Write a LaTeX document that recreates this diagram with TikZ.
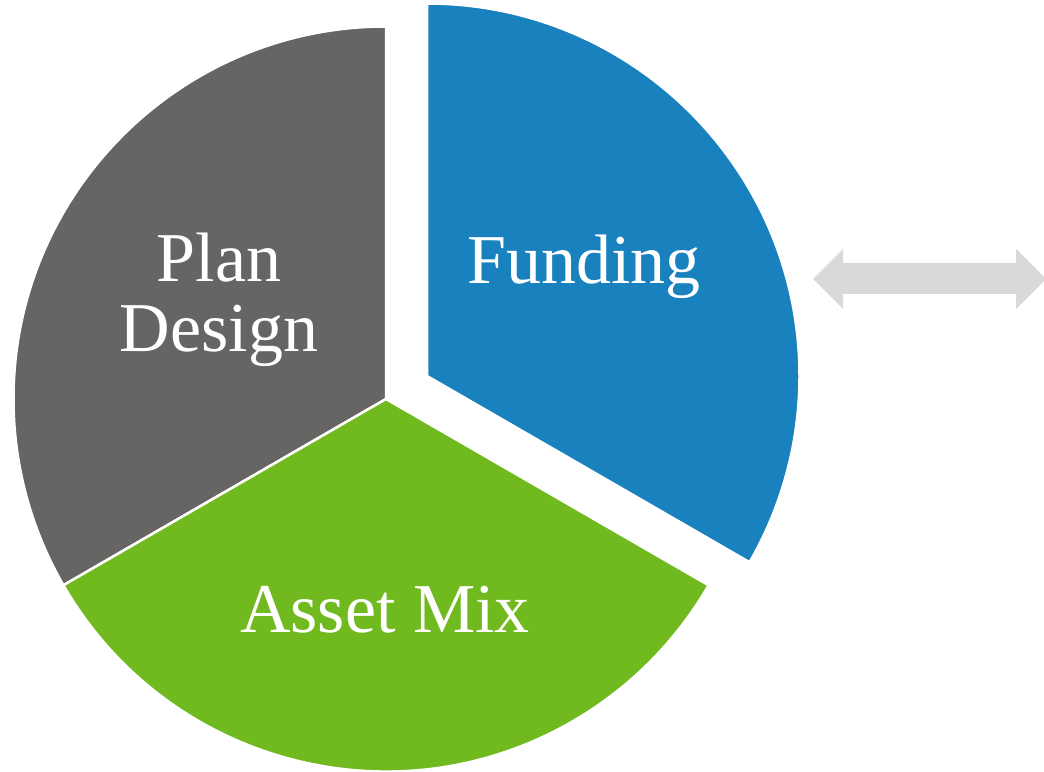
\documentclass[tikz,border=0pt]{standalone}
\usepackage{fontspec}
\setmainfont{Liberation Serif}
\definecolor{pgray}{HTML}{666563}
\definecolor{pblue}{HTML}{1982BE}
\definecolor{pgreen}{HTML}{70BA1F}
\definecolor{parrow}{HTML}{D9D9D9}
\begin{document}
\begin{tikzpicture}[x=1pt,y=1pt,
  slice/.style={draw=white,line width=2.5pt,line join=miter},
  lbl/.style={text=white,font=\fontsize{70}{70}\selectfont,align=center,inner sep=0pt,anchor=base}]
\useasboundingbox (0,0) rectangle (1044,771);
\clip (0,0) rectangle (1044,771);
\coordinate (C) at (386,372);
\coordinate (B) at (427,395);
\draw[slice,fill=pgray] (C) -- ++(90:372.5) arc[start angle=90,end angle=210,radius=372.5] -- cycle;
\draw[slice,fill=pgreen] (C) -- ++(210:372.5) arc[start angle=210,end angle=330,radius=372.5] -- cycle;
\draw[slice,fill=pblue] (B) -- ++(90:372.5) arc[start angle=90,end angle=-30,radius=372.5] -- cycle;
\node[lbl] (plan) at (219,419) {Plan\\Design};
\node[lbl] (fund) at (584,487) {Funding};
\node[lbl] (asset) at (385,138) {Asset Mix};
\fill[parrow] (813,492) -- (843,522) -- (843,508) -- (1016,508) -- (1016,522) -- (1046,492)
  -- (1016,462) -- (1016,477) -- (843,477) -- (843,462) -- cycle;
\end{tikzpicture}
\end{document}
